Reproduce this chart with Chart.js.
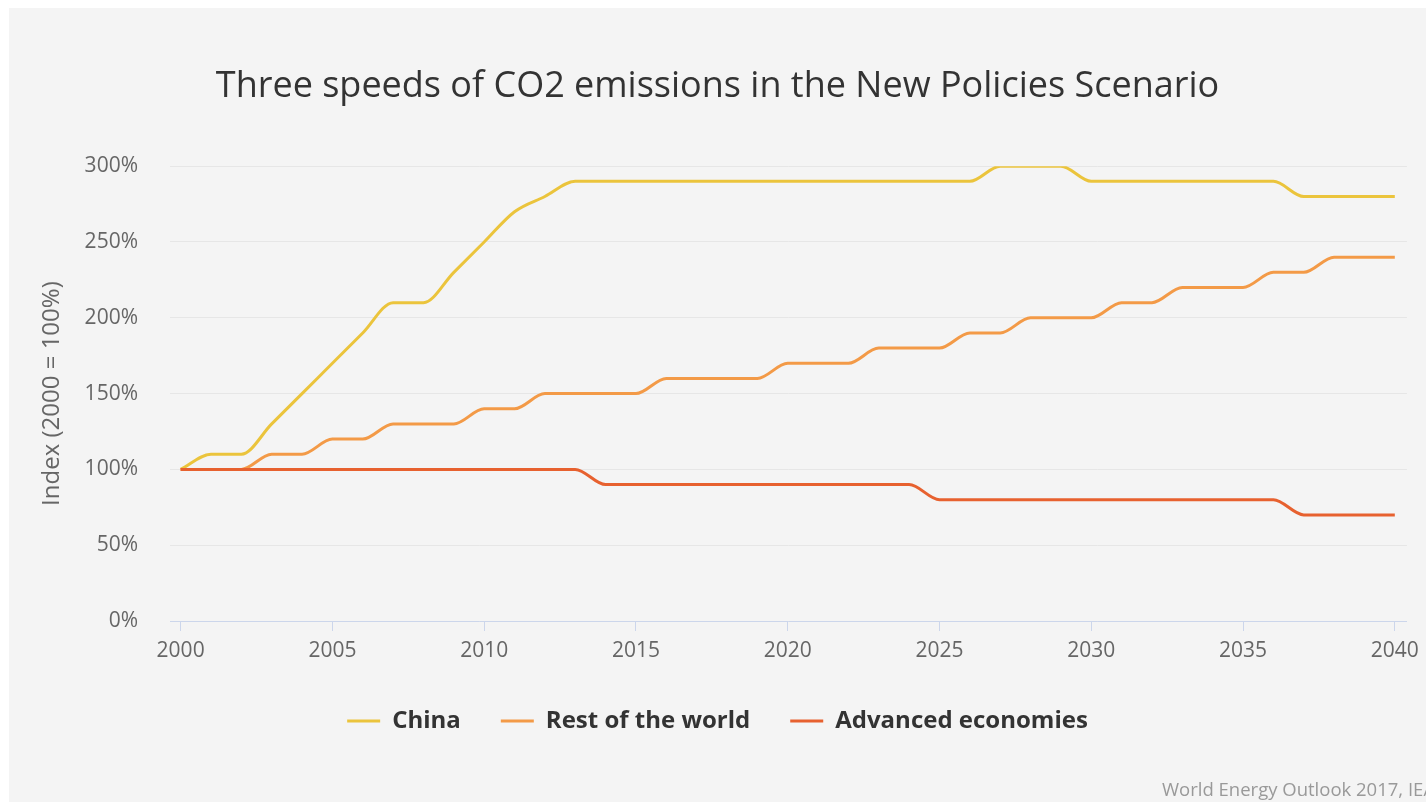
<!DOCTYPE html>
<html>
<head>
<meta charset="utf-8">
<script src="https://cdn.jsdelivr.net/npm/chart.js@4.4.1/dist/chart.umd.min.js"></script>
<style>
  html, body { margin: 0; padding: 0; background: #ffffff; width: 1426px; height: 802px; overflow: hidden; }
  #wrap { position: absolute; left: 9px; top: 8px; width: 1417px; height: 794px; background: #f4f4f4; }
  #credits { position: absolute; left: 1162px; top: 776px; font-family: "Open Sans", sans-serif; font-size: 18.5px; color: #999999; white-space: nowrap; }
</style>
</head>
<body>
<div id="wrap"><canvas id="c" width="1417" height="794"></canvas></div>
<div id="credits">World Energy Outlook 2017, IEA</div>
<script>
const years = [2000,2001,2002,2003,2004,2005,2006,2007,2008,2009,2010,2011,2012,2013,2014,2015,2016,2017,2018,2019,2020,2021,2022,2023,2024,2025,2026,2027,2028,2029,2030,2031,2032,2033,2034,2035,2036,2037,2038,2039,2040];
const china = [100,110,110,130,150,170,190,210,210,230,250,270,280,290,290,290,290,290,290,290,290,290,290,290,290,290,290,300,300,300,290,290,290,290,290,290,290,280,280,280,280];
const restOfWorld = [100,100,100,110,110,120,120,130,130,130,140,140,150,150,150,150,160,160,160,160,170,170,170,180,180,180,190,190,200,200,200,210,210,220,220,220,230,230,240,240,240];
const advanced = [100,100,100,100,100,100,100,100,100,100,100,100,100,100,90,90,90,90,90,90,90,90,90,90,90,80,80,80,80,80,80,80,80,80,80,80,80,70,70,70,70];
const xTicks = [2000,2005,2010,2015,2020,2025,2030,2035,2040];
const yTicks = [0,50,100,150,200,250,300];

const pts = arr => arr.map((v, i) => ({x: years[i], y: v}));
const FONT = '"Open Sans", sans-serif';
const COLORS = ['#ebc43c', '#f39a47', '#e7612f'];

function ds(label, arr, color, order) {
  return {
    label: label, data: pts(arr), order: order,
    borderColor: color, backgroundColor: color,
    pointBorderColor: color, pointBackgroundColor: color, pointBorderWidth: 3
  };
}

new Chart(document.getElementById('c'), {
  type: 'line',
  data: {
    datasets: [
      ds('China', china, COLORS[0], 2),
      ds('Rest of the world', restOfWorld, COLORS[1], 1),
      ds('Advanced economies', advanced, COLORS[2], 0)
    ]
  },
  options: {
    responsive: false,
    animation: false,
    elements: {
      point: { radius: 0, hoverRadius: 0 },
      line: { borderWidth: 3, cubicInterpolationMode: 'monotone', fill: false }
    },
    layout: { padding: { left: 18, right: 18, top: 0, bottom: 59 } },
    plugins: {
      tooltip: { enabled: false },
      title: {
        display: true,
        text: 'Three speeds of CO2 emissions in the New Policies Scenario',
        color: '#333333',
        font: { family: FONT, size: 36, weight: 'normal' },
        padding: { top: 57, bottom: 58 }
      },
      legend: {
        position: 'bottom',
        labels: {
          usePointStyle: true,
          pointStyle: 'line',
          pointStyleWidth: 33,
          padding: 40,
          color: '#333333',
          font: { family: FONT, size: 24, weight: 'bold' },
          sort: (a, b) => a.datasetIndex - b.datasetIndex
        }
      }
    },
    scales: {
      x: {
        type: 'linear',
        min: 1999.65,
        max: 2040.4,
        afterBuildTicks: s => { s.ticks = xTicks.map(v => ({ value: v })); },
        afterFit: s => { s.height = 48; },
        grid: { drawOnChartArea: false, drawTicks: true, tickLength: 10, color: '#ccd6eb' },
        border: { display: true, color: '#ccd6eb', width: 1 },
        ticks: { color: '#666666', font: { family: FONT, size: 21 }, padding: 7, maxRotation: 0, autoSkip: false, callback: v => String(v) }
      },
      y: {
        min: 0,
        max: 300,
        afterBuildTicks: s => { s.ticks = yTicks.map(v => ({ value: v })); },
        afterFit: s => { s.width = 143; },
        grid: { color: '#e6e6e6', drawTicks: false, lineWidth: 1 },
        border: { display: false },
        ticks: { color: '#666666', font: { family: FONT, size: 21 }, padding: 32, callback: v => v + '%' },
        title: {
          display: true,
          text: 'Index (2000 = 100%)',
          color: '#666666',
          font: { family: FONT, size: 24 },
          padding: { top: 11, bottom: 0 }
        }
      }
    }
  }
});
</script>
</body>
</html>
